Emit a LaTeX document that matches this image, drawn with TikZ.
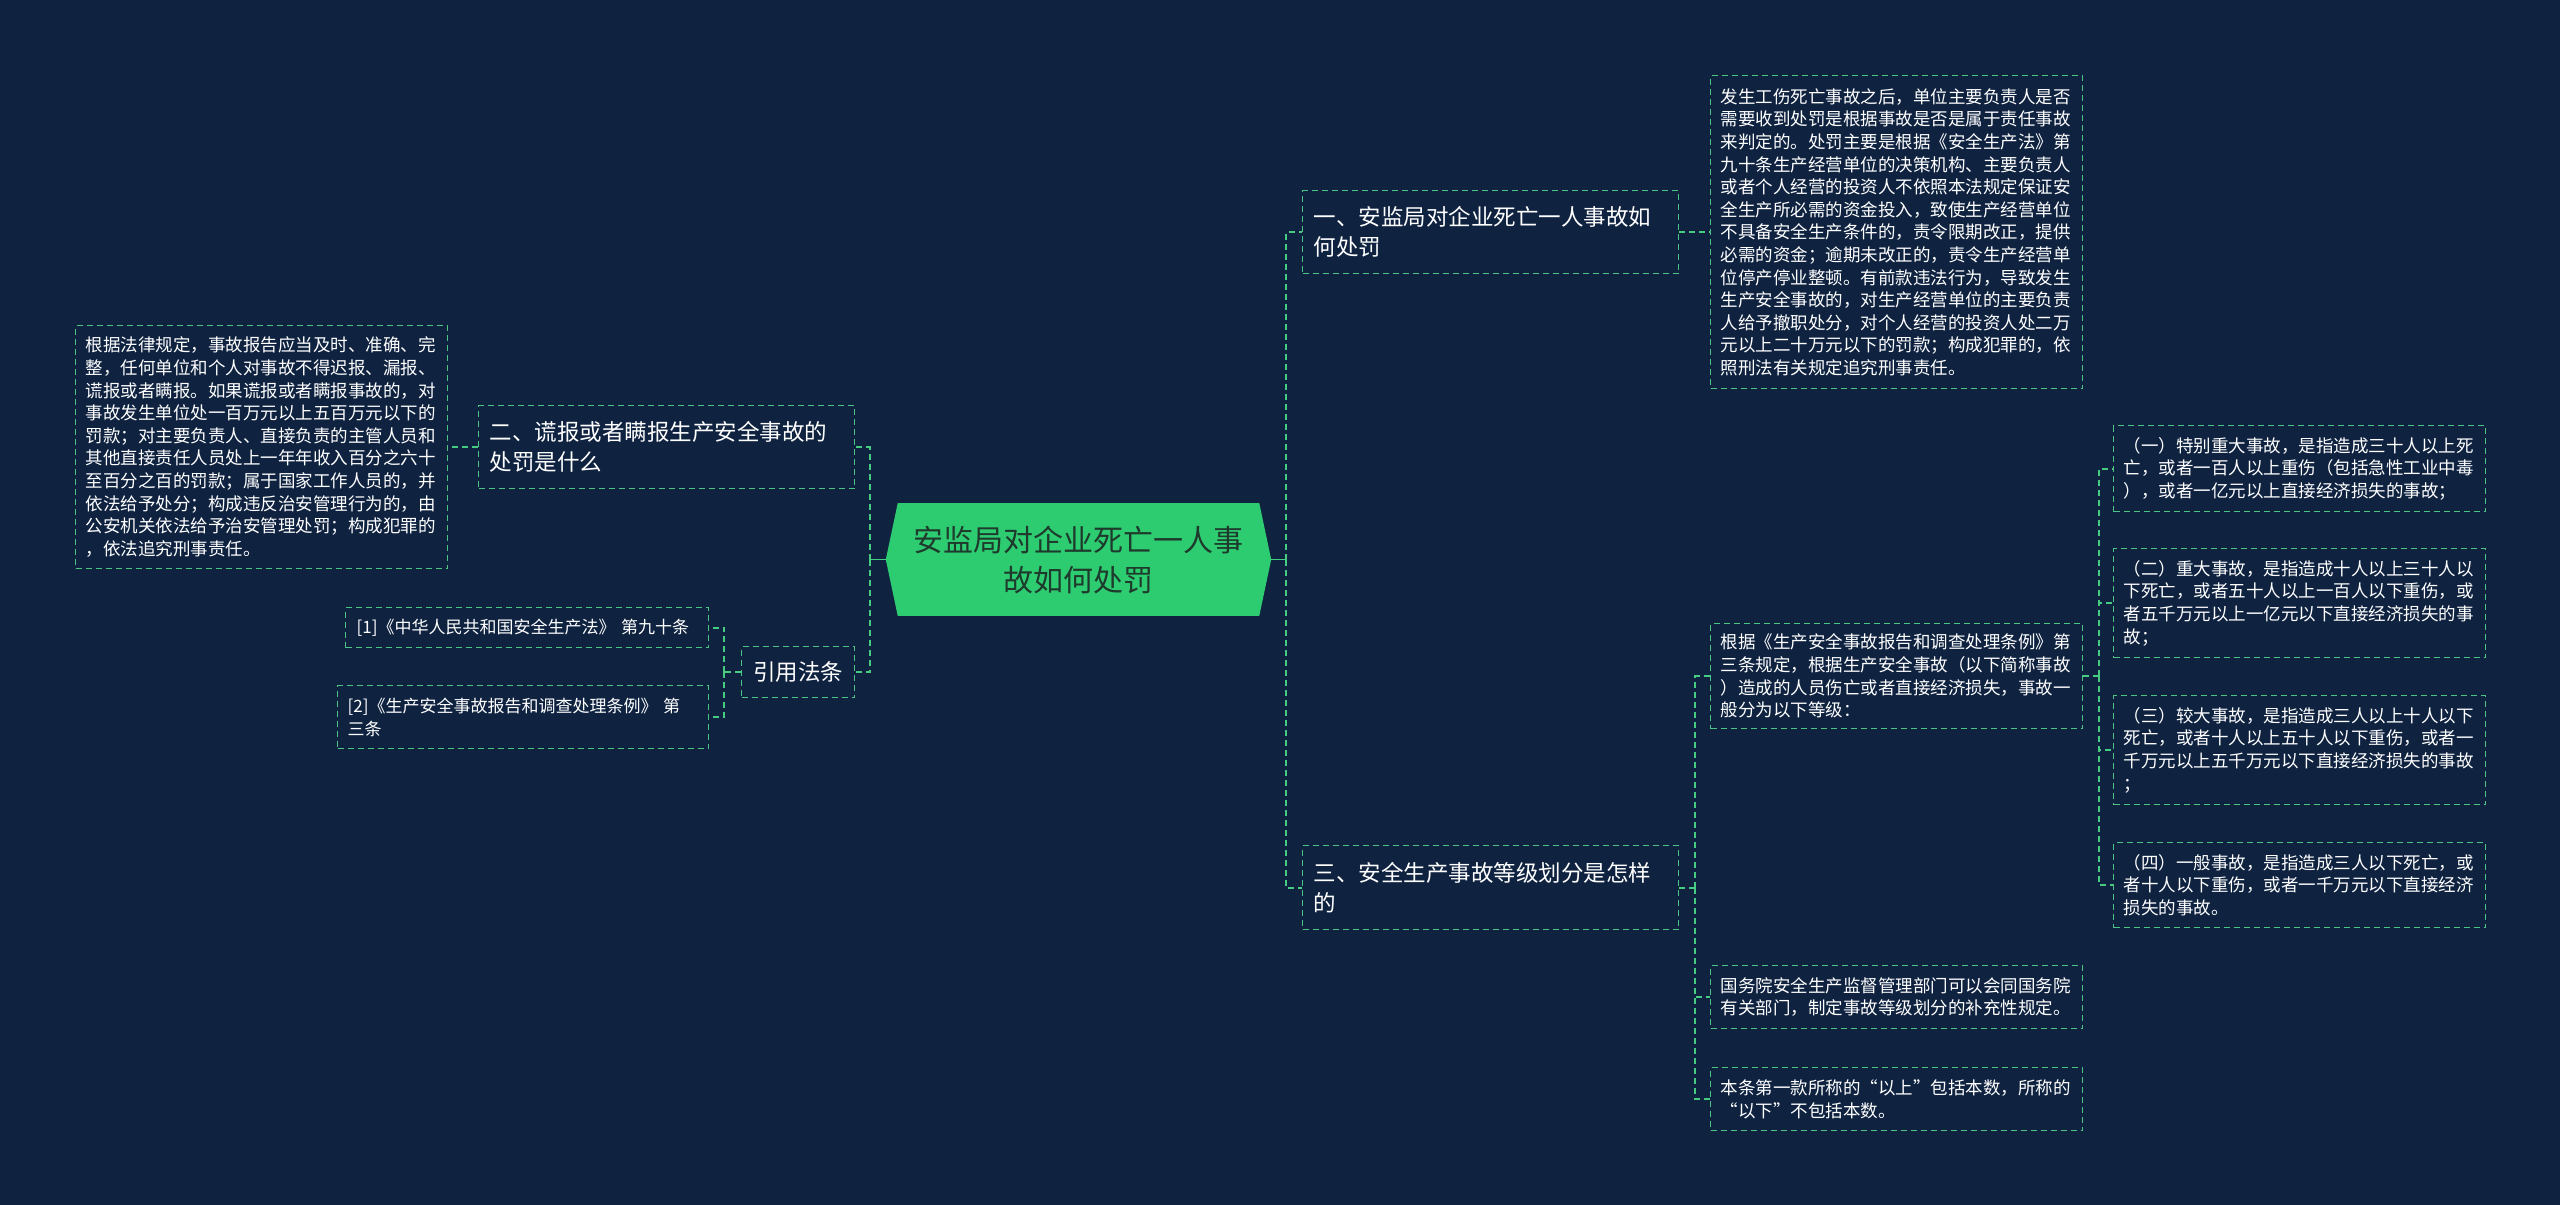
\documentclass[tikz,border=0pt]{standalone}
\usepackage{fontspec}
\newfontfamily\cjk{Noto Sans CJK SC}
\definecolor{bgnavy}{HTML}{0F2341}
\definecolor{linegreen}{HTML}{45CC80}
\definecolor{boxgreen}{HTML}{4CC485}
\definecolor{rootgreen}{HTML}{2ECC71}
\definecolor{roottext}{HTML}{1E3A2C}
\begin{document}
\begin{tikzpicture}[x=1pt, y=-1pt,
    detail/.style ={draw=boxgreen, line width=1.3pt, dash pattern=on 6pt off 4pt,
      text=white, font=\cjk\fontsize{17.5}{22.6}\selectfont, align=left,
      anchor=north west, inner xsep=10pt, inner ysep=0pt, text width=352pt},
    topic/.style ={detail, font=\cjk\fontsize{22.5}{30}\selectfont, inner xsep=11pt, text width=354pt},
    root/.style ={fill=rootgreen, text=roottext, font=\cjk\fontsize{30}{40}\selectfont, align=center,
      minimum width=361pt, minimum height=113pt, inner sep=0pt},
    link/.style ={draw=linegreen, line width=1.8pt, dash pattern=on 6pt off 4pt},
    stub/.style ={draw=linegreen, line width=1.8pt}]
   \fill[bgnavy] (0,0) rectangle (2560,1205);
   \useasboundingbox (0,0) rectangle (2560,1205);
   % centre
   \node[root] (root) at (1078.5,559.5) {安监局对企业死亡一人事\\故如何处罚};
   \fill[rootgreen] (root.north west) -- ([xshift=-12pt]root.west) -- (root.south west) -- cycle;
   \fill[rootgreen] (root.north east) -- ([xshift=12pt]root.east) -- (root.south east) -- cycle;
   % first level
   \node[topic, minimum height=83pt] (punish) at (1302,190) {一、安监局对企业死亡一人事故如\\何处罚};
   \node[topic, minimum height=83pt] (lie) at (478,405) {二、谎报或者瞒报生产安全事故的\\处罚是什么};
   \node[topic, minimum height=84pt] (grade) at (1302,845) {三、安全生产事故等级划分是怎样\\的};
   \node[topic, inner xsep=10pt, text width=93pt, align=center, minimum height=51pt] (law) at (741,646) {引用法条};
   % texts
   \node[detail, minimum height=313pt] (punishtext) at (1710,75) {发生工伤死亡事故之后，单位主要负责人是否\\需要收到处罚是根据事故是否是属于责任事故\\来判定的。处罚主要是根据《安全生产法》第\\九十条生产经营单位的决策机构、主要负责人\\或者个人经营的投资人不依照本法规定保证安\\全生产所必需的资金投入，致使生产经营单位\\不具备安全生产条件的，责令限期改正，提供\\必需的资金；逾期未改正的，责令生产经营单\\位停产停业整顿。有前款违法行为，导致发生\\生产安全事故的，对生产经营单位的主要负责\\人给予撤职处分，对个人经营的投资人处二万\\元以上二十万元以下的罚款；构成犯罪的，依\\照刑法有关规定追究刑事责任。};
   \node[detail, minimum height=243pt] (lietext) at (75,325) {根据法律规定，事故报告应当及时、准确、完\\整，任何单位和个人对事故不得迟报、漏报、\\谎报或者瞒报。如果谎报或者瞒报事故的，对\\事故发生单位处一百万元以上五百万元以下的\\罚款；对主要负责人、直接负责的主管人员和\\其他直接责任人员处上一年年收入百分之六十\\至百分之百的罚款；属于国家工作人员的，并\\依法给予处分；构成违反治安管理行为的，由\\公安机关依法给予治安管理处罚；构成犯罪的\\，依法追究刑事责任。};
   \node[detail, minimum height=105pt] (gradetext) at (1710,623) {根据《生产安全事故报告和调查处理条例》第\\三条规定，根据生产安全事故（以下简称事故\\）造成的人员伤亡或者直接经济损失，事故一\\般分为以下等级：};
   \node[detail, minimum height=86pt] (level1) at (2113,425) {（一）特别重大事故，是指造成三十人以上死\\亡，或者一百人以上重伤（包括急性工业中毒\\），或者一亿元以上直接经济损失的事故；};
   \node[detail, minimum height=109pt] (level2) at (2113,548) {（二）重大事故，是指造成十人以上三十人以\\下死亡，或者五十人以上一百人以下重伤，或\\者五千万元以上一亿元以下直接经济损失的事\\故；};
   \node[detail, minimum height=109pt] (level3) at (2113,695) {（三）较大事故，是指造成三人以上十人以下\\死亡，或者十人以上五十人以下重伤，或者一\\千万元以上五千万元以下直接经济损失的事故\\；};
   \node[detail, minimum height=85pt] (level4) at (2113,842) {（四）一般事故，是指造成三人以下死亡，或\\者十人以下重伤，或者一千万元以下直接经济\\损失的事故。};
   \node[detail, minimum height=63pt] (gradenote) at (1710,965) {国务院安全生产监督管理部门可以会同国务院\\有关部门，制定事故等级划分的补充性规定。};
   \node[detail, minimum height=63pt] (gradescope) at (1710,1067) {本条第一款所称的“以上”包括本数，所称的\\“以下”不包括本数。};
   \node[detail, font=\cjk\fontsize{17}{23}\selectfont, inner xsep=11pt, text width=341pt, minimum height=40pt] (law1) at (345,607) {[1]《中华人民共和国安全生产法》~第九十条};
   \node[detail, font=\cjk\fontsize{17}{23}\selectfont, text width=351pt, minimum height=63pt] (law2) at (337,685) {[2]《生产安全事故报告和调查处理条例》~第\\三条};
   % connectors
   \draw[stub] ([xshift=-12pt]root.west) -- ++(-16,0) coordinate (rootleft);
   \draw[link] (rootleft) |- (lie.east);
   \draw[link] (rootleft) |- (law.east);
   \draw[stub] ([xshift=12pt]root.east) -- ++(15,0) coordinate (rootright);
   \draw[link] (rootright) |- (punish.west);
   \draw[link] (rootright) |- (grade.west);
   \draw[link] (punish.east) to (punishtext.west);
   \draw[link] (lie.west) to (lietext.east);
   \draw[link] (grade.east) -- ++(16,0) coordinate (gradefork);
   \draw[link] (gradefork) |- (gradetext.west);
   \draw[link] (gradefork) |- (gradenote.west);
   \draw[link] (gradefork) |- (gradescope.west);
   \draw[link] (gradetext.east) -- ++(16,0) coordinate (levelfork);
   \draw[link] (levelfork) |- (level1.west);
   \draw[link] (levelfork) |- (level2.west);
   \draw[link] (levelfork) |- (level3.west);
   \draw[link] (levelfork) |- (level4.west);
   \draw[link] (law.west) -- ++(-17,0) coordinate (lawfork);
   \draw[link] (lawfork) |- (law1.east);
   \draw[link] (lawfork) |- (law2.east);
 \end{tikzpicture}
\end{document}
